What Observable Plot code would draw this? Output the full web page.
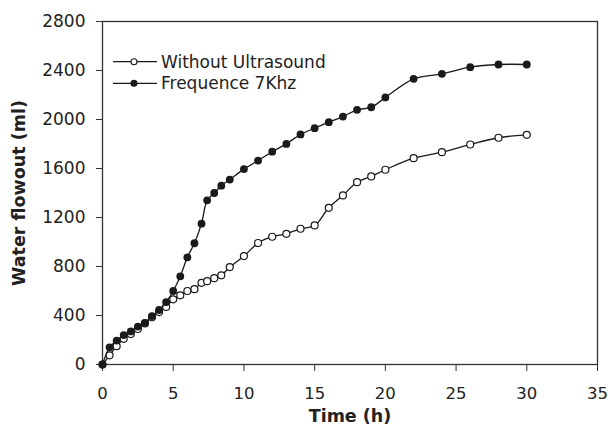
<!DOCTYPE html>
<html><head><meta charset="utf-8">
<script src="https://cdn.jsdelivr.net/npm/d3@7"></script>
<script src="https://cdn.jsdelivr.net/npm/@observablehq/plot@0.6"></script>
<style>
body{margin:0;background:#fff;}
#chart{position:relative;width:610px;height:425px;}
#chart svg{font-family:"DejaVu Sans",sans-serif;}
g[aria-label="x-axis label"] text, g[aria-label="y-axis label"] text{font-weight:bold;font-size:17.5px;}
</style></head><body><div id="chart"></div>
<script>
// Time (h)
const times = [0,0.5,1,1.5,2,2.5,3,3.5,4,4.5,5,5.5,6,6.5,7,7.4,7.9,8.4,9,10,11,12,13,14,15,16,17,18,19,20,22,24,26,28,30];
// Water flowout (ml)
const withoutUltrasound = [0,75,150,210,248,290,335,385,428,470,532,565,600,615,667,680,705,728,795,885,992,1043,1067,1108,1135,1279,1380,1488,1535,1590,1684,1733,1796,1851,1875];
const frequence7khz = [0,140,195,240,270,310,340,395,445,510,600,720,875,990,1150,1340,1400,1460,1510,1595,1665,1737,1801,1878,1929,1978,2024,2079,2100,2180,2332,2373,2427,2449,2449];
const seriesNames = ["Without Ultrasound","Frequence 7Khz"];
const xTicks = [0,5,10,15,20,25,30,35];
const yTicks = [0,400,800,1200,1600,2000,2400,2800];
const xLabel = "Time (h)";
const yLabel = "Water flowout (ml)";

const openData = times.map((t,i)=>({t, v: withoutUltrasound[i]}));
const filledData = times.map((t,i)=>({t, v: frequence7khz[i]}));
const ink = "#1a1a1a";

const plot = Plot.plot({
  width:610, height:425,
  marginLeft:102, marginRight:13, marginTop:21, marginBottom:61,
  style:{fontFamily:"DejaVu Sans, sans-serif", fontSize:"17px", color:"#222", background:"white", overflow:"visible"},
  x:{domain:[0,35]},
  y:{domain:[0,2800]},
  marks:[
    Plot.axisX({ticks:xTicks, tickSize:7, tickPadding:16, fontSize:16.5, tickFormat:d=>String(d), label:xLabel, labelAnchor:"center", labelOffset:57, labelArrow:"none", stroke:"#333"}),
    Plot.axisY({ticks:yTicks, tickSize:6, tickPadding:11, tickFormat:d=>String(d), label:yLabel, labelAnchor:"center", labelOffset:90, labelArrow:"none", stroke:"#333"}),
    Plot.frame({stroke:"#333", strokeWidth:1.3}),
    Plot.line(openData,{x:"t", y:"v", curve:"catmull-rom", stroke:ink, strokeWidth:1.3}),
    Plot.dot(openData,{x:"t", y:"v", r:3.5, fill:"white", stroke:ink, strokeWidth:1.2}),
    Plot.line(filledData,{x:"t", y:"v", curve:"catmull-rom", stroke:ink, strokeWidth:1.3}),
    Plot.dot(filledData,{x:"t", y:"v", r:3.9, fill:ink, stroke:"none"})
  ]
});
document.getElementById("chart").appendChild(plot);

// legend
const svg = d3.select(plot);
const lg = svg.append("g").attr("font-family","DejaVu Sans, sans-serif").attr("font-size",17).attr("fill","#222").attr("text-anchor","start");
const rowsY = [61.7, 83.3];
seriesNames.forEach((name,i)=>{
  const y = rowsY[i];
  lg.append("line").attr("x1",113).attr("x2",157).attr("y1",y).attr("y2",y).attr("stroke",ink).attr("stroke-width",1.3);
  lg.append("circle").attr("cx",134).attr("cy",y).attr("r",3)
    .attr("fill", i===0 ? "white" : ink).attr("stroke",ink).attr("stroke-width",1.1);
  lg.append("text").attr("x",161).attr("y",y).attr("dy","0.36em").attr("text-anchor","start").text(name);
});
</script></body></html>
